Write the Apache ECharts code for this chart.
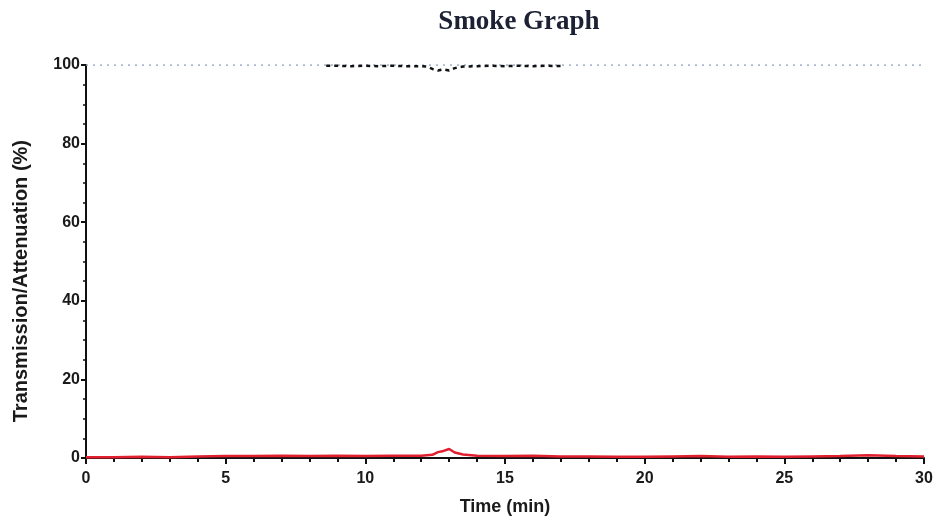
<!DOCTYPE html>
<html>
<head>
<meta charset="utf-8">
<script src="https://cdn.jsdelivr.net/npm/echarts@6/dist/echarts.min.js"></script>
<style>
  html, body { margin: 0; padding: 0; background: #fff; }
  #chart { width: 939px; height: 524px; }
</style>
</head>
<body>
<div id="chart"></div>
<script>
// Smoke density test: transmission (dotted) and attenuation (red) vs time
const titleText = 'Smoke Graph';
const xName = 'Time (min)';
const yName = 'Transmission/Attenuation (%)';

// Reference transmission level across the whole test [min, %]
const transmissionRef = [
  [0, 100], [5, 100], [10, 100], [15, 100], [20, 100], [25, 100], [30, 100]
];

// Measured transmission while the sample burns [min, %]
const transmission = [
  [8.6, 99.8], [9.0, 99.8], [9.5, 99.7], [10.0, 99.8], [10.5, 99.7], [11.0, 99.8],
  [11.5, 99.7], [12.0, 99.7], [12.2, 99.6], [12.4, 99.0], [12.6, 98.6], [12.8, 98.9],
  [13.0, 98.6], [13.2, 99.2], [13.5, 99.6], [14.0, 99.7], [14.5, 99.8], [15.0, 99.7],
  [15.5, 99.8], [16.0, 99.7], [16.5, 99.8], [17.1, 99.7]
];

// Light attenuation [min, %]
const attenuation = [
  [0, 0.2], [1, 0.2], [2, 0.3], [3, 0.2], [4, 0.4], [5, 0.5], [6, 0.5], [7, 0.6],
  [8, 0.5], [9, 0.6], [10, 0.5], [11, 0.6], [12, 0.6], [12.4, 0.8], [12.6, 1.5],
  [12.8, 1.8], [13.0, 2.3], [13.2, 1.4], [13.5, 0.9], [14, 0.6], [15, 0.5], [16, 0.6],
  [17, 0.4], [18, 0.4], [19, 0.3], [20, 0.3], [21, 0.4], [22, 0.5], [23, 0.3], [24, 0.4],
  [25, 0.3], [26, 0.4], [27, 0.5], [28, 0.7], [29, 0.5], [30, 0.4]
];

const chart = echarts.init(document.getElementById('chart'));
const font = 'Liberation Sans, Arial, sans-serif';
const labelStyle = { color: '#1a1a1a', fontFamily: font, fontWeight: 'bold', fontSize: 16 };

chart.setOption({
  animation: false,
  title: {
    text: titleText,
    left: 514, top: 4, textAlign: 'center',
    textStyle: { fontFamily: 'Liberation Serif, Times New Roman, serif', fontWeight: 'bold', fontSize: 27, color: '#1c2233' }
  },
  grid: { left: 86, right: 15, top: 65, bottom: 66 },
  xAxis: {
    type: 'value', min: 0, max: 30, interval: 5,
    name: xName, nameLocation: 'middle', nameGap: 40,
    nameTextStyle: { color: '#1a1a1a', fontFamily: font, fontWeight: 'bold', fontSize: 18 },
    axisLine: { lineStyle: { color: '#111', width: 2 } },
    axisTick: { show: true, length: 6, lineStyle: { color: '#111', width: 2 } },
    minorTick: { show: true, splitNumber: 5, length: 4, lineStyle: { color: '#111', width: 2 } },
    axisLabel: Object.assign({ margin: 13 }, labelStyle),
    splitLine: { show: false }
  },
  yAxis: {
    type: 'value', min: 0, max: 100, interval: 20,
    axisLine: { show: true, lineStyle: { color: '#111', width: 2 } },
    axisTick: { show: true, length: 5, lineStyle: { color: '#111', width: 2 } },
    minorTick: { show: true, splitNumber: 4, length: 3, lineStyle: { color: '#111', width: 1.5 } },
    axisLabel: Object.assign({ margin: 6 }, labelStyle),
    splitLine: { show: false }
  },
  graphic: [{
    type: 'text', left: 11, top: 140, rotation: Math.PI / 2,
    style: { text: yName, fill: '#1a1a1a', font: 'bold 20px "Liberation Sans", Arial, sans-serif' }
  }],
  series: [
    {
      type: 'line', data: transmissionRef, showSymbol: false,
      lineStyle: { color: '#8ea2c6', width: 1.5, type: [2, 5] }
    },
    {
      type: 'line', data: transmission, showSymbol: false,
      lineStyle: { color: '#111', width: 2.5, type: [4, 4] }
    },
    {
      type: 'line', data: attenuation, showSymbol: false,
      lineStyle: { color: '#e0202e', width: 2.5 }
    }
  ]
});
</script>
</body>
</html>
